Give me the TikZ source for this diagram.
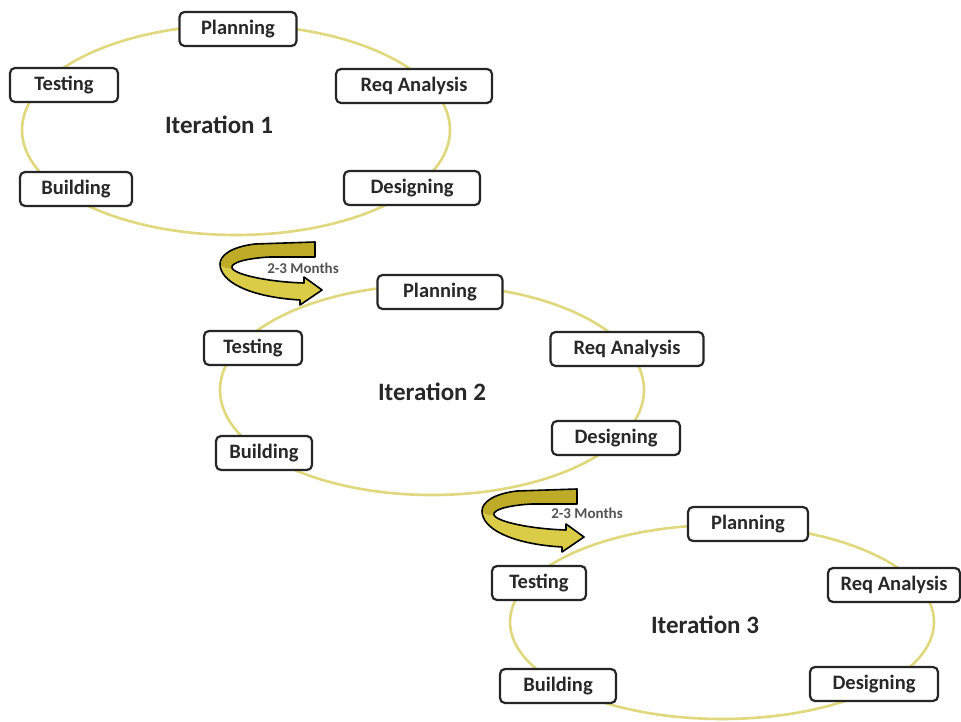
\documentclass[tikz,border=0pt]{standalone}
\usepackage{fontspec}
\setmainfont{Carlito}
\definecolor{ringc}{RGB}{224,216,125}
\definecolor{txtc}{RGB}{40,40,40}
\definecolor{backc}{RGB}{190,172,40}
\definecolor{frontc}{RGB}{218,204,70}
\tikzset{
  ring/.style={draw=ringc, line width=2.6pt},
  phase/.style={draw=black!85, line width=2.2pt, rounded corners=5pt, fill=white,
    minimum height=34pt, inner sep=0pt, font=\fontsize{20.5}{23}\selectfont\bfseries, text=txtc},
  itlabel/.style={font=\fontsize{25}{28}\selectfont\bfseries, text=txtc},
  monlabel/.style={font=\fontsize{15}{17}\selectfont\bfseries, text=txtc!80},
  ribbonline/.style={draw=black, line width=1.6pt, line join=round}
}
\newcommand{\ribbon}{%
  \fill[frontc] (0,22) .. controls (0,40) and (30,55) .. (80,58) -- (80,63) -- (102,48) -- (84,35) -- (84,41) .. controls (50,40) and (15,33) .. (12,26) .. controls (8,27) and (3,26) .. (0,22) -- cycle;
  \fill[backc] (95,0) -- (35,2) .. controls (10,5) and (0,14) .. (0,22) .. controls (3,26) and (8,27) .. (12,26) .. controls (10,20) and (30,16) .. (50,15) -- (95,15) -- cycle;
  \draw[ribbonline] (95,0) -- (35,2) .. controls (10,5) and (0,14) .. (0,22) .. controls (0,40) and (30,55) .. (80,58) -- (80,63) -- (102,48) -- (84,35) -- (84,41) .. controls (50,40) and (15,33) .. (12,26) .. controls (10,20) and (30,16) .. (50,15) -- (95,15) -- cycle;
}
\begin{document}
\begin{tikzpicture}[x=1pt, y=-1pt]
\useasboundingbox (0,0) rectangle (961,722);
\fill[white] (0,0) rectangle (961,722);

% rings
\draw[ring] (236,130) ellipse [x radius=214pt, y radius=105pt];
\draw[ring] (432,390) ellipse [x radius=212pt, y radius=105pt];
\draw[ring] (722,622) ellipse [x radius=212pt, y radius=97pt];

% curved arrows
\begin{scope}[shift={(220,242)}]
  \ribbon
\end{scope}
\begin{scope}[shift={(482,489)}]
  \ribbon
\end{scope}
\node[monlabel] (m1) at (303,268) {2-3 Months};
\node[monlabel] (m2) at (587,513) {2-3 Months};

% iteration 1
\node[itlabel] (it1) at (219,125) {Iteration 1};
\node[phase, minimum width=117pt] (p1) at (238,29) {Planning};
\node[phase, minimum width=108pt] (t1) at (64,85) {Testing};
\node[phase, minimum width=156pt] (r1) at (414,86) {Req Analysis};
\node[phase, minimum width=112pt] (b1) at (76,189) {Building};
\node[phase, minimum width=136pt] (d1) at (412,188) {Designing};

% iteration 2
\node[itlabel] (it2) at (432,392) {Iteration 2};
\node[phase, minimum width=125pt] (p2) at (440,292) {Planning};
\node[phase, minimum width=98pt] (t2) at (253,348) {Testing};
\node[phase, minimum width=153pt] (r2) at (627,349) {Req Analysis};
\node[phase, minimum width=96pt] (b2) at (264,453) {Building};
\node[phase, minimum width=128pt] (d2) at (616,438) {Designing};

% iteration 3
\node[itlabel] (it3) at (705,625) {Iteration 3};
\node[phase, minimum width=120pt] (p3) at (748,524) {Planning};
\node[phase, minimum width=94pt] (t3) at (539,583) {Testing};
\node[phase, minimum width=132pt] (r3) at (894,585) {Req Analysis};
\node[phase, minimum width=116pt] (b3) at (558,686) {Building};
\node[phase, minimum width=128pt] (d3) at (874,684) {Designing};
\end{tikzpicture}
\end{document}
